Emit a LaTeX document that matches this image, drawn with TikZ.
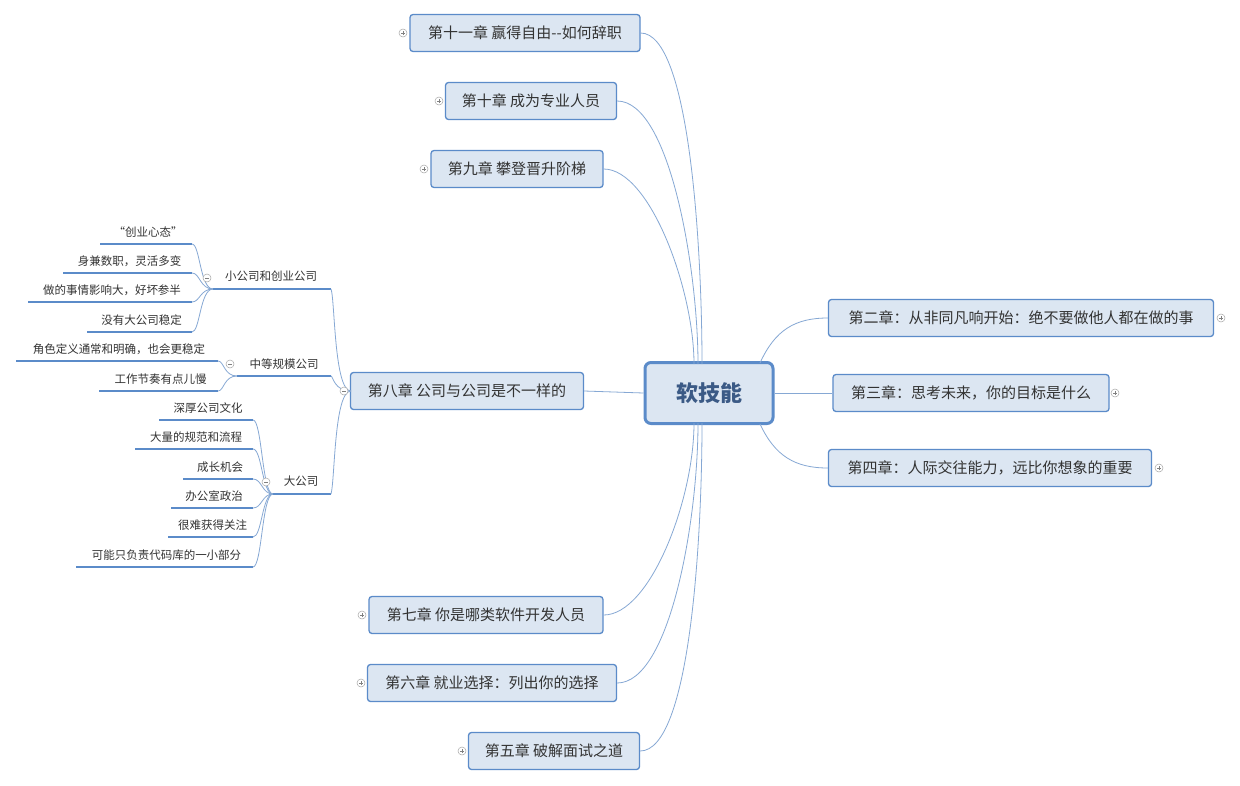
\documentclass[tikz,border=0pt]{standalone}
\usepackage{fontspec}
\setmainfont{Noto Sans CJK SC}
\usetikzlibrary{calc}
\begin{document}
\begin{tikzpicture}[x=1pt,y=-1pt,
  chap/.style={draw=boxb,fill=boxf,line width=1.3pt,rounded corners=3pt,font=\fontsize{15}{17}\selectfont,text=txt,minimum height=37pt,inner xsep=0pt},
  leaf/.style={font=\fontsize{11.5}{13}\selectfont,text=txt,inner sep=0pt},
  conn/.style={draw=lnk,line width=0.8pt},
  ul/.style={draw=ulc,line width=2pt},
  tog/.style={circle,draw=gray!70,fill=white,line width=0.5pt,minimum size=8pt,inner sep=0pt},
]
\definecolor{boxb}{HTML}{5B8BC9}
\definecolor{boxf}{HTML}{DCE6F2}
\definecolor{txt}{HTML}{333333}
\definecolor{lnk}{HTML}{86A8D4}
\definecolor{ulc}{HTML}{5B8BC9}
\definecolor{ctr}{HTML}{3B5A86}
\useasboundingbox (0,0) rectangle (1240,785);
\fill[white] (0,0) rectangle (1240,785);

% centre
\node[draw=boxb,fill=boxf,line width=3pt,rounded corners=6pt,minimum width=128pt,minimum height=61pt,font=\fontsize{22}{24}\bfseries\selectfont,text=ctr] (c) at (709,393) {软技能};
\coordinate (ct1) at (694,364); \coordinate (ct2) at (698,364); \coordinate (ct3) at (702,364);
\coordinate (cb1) at (694,423); \coordinate (cb2) at (698,423); \coordinate (cb3) at (702,423);
\coordinate (cr1) at (760,363); \coordinate (cr3) at (760,424);

% chapters
\node[chap,minimum width=230pt] (ch11) at (525,33) {第十一章 赢得自由-{}-如何辞职};
\node[chap,minimum width=171pt] (ch10) at (531,101) {第十章 成为专业人员};
\node[chap,minimum width=172pt] (ch9) at (517,169) {第九章 攀登晋升阶梯};
\node[chap,minimum width=233pt] (ch8) at (467,391) {第八章 公司与公司是不一样的};
\node[chap,minimum width=234pt] (ch7) at (486,615) {第七章 你是哪类软件开发人员};
\node[chap,minimum width=249pt] (ch6) at (492,683) {第六章 就业选择：列出你的选择};
\node[chap,minimum width=171pt] (ch5) at (554,751) {第五章 破解面试之道};
\node[chap,minimum width=385pt] (ch2) at (1021,318) {第二章：从非同凡响开始：绝不要做他人都在做的事};
\node[chap,minimum width=276pt] (ch3) at (971,393) {第三章：思考未来，你的目标是什么};
\node[chap,minimum width=323pt] (ch4) at (990,468) {第四章：人际交往能力，远比你想象的重要};

% centre connectors
\draw[conn] (ch11.east) .. controls (690,33) and (702,250) .. (ct3);
\draw[conn] (ch10.east) .. controls (670,101) and (698,270) .. (ct2);
\draw[conn] (ch9.east) .. controls (650,169) and (694,290) .. (ct1);
\draw[conn] (ch8.east) -- (c.west);
\draw[conn] (ch7.east) .. controls (650,615) and (694,500) .. (cb1);
\draw[conn] (ch6.east) .. controls (670,683) and (698,520) .. (cb2);
\draw[conn] (ch5.east) .. controls (690,751) and (702,540) .. (cb3);
\draw[conn] (cr1) .. controls (775,330) and (795,318) .. (ch2.west);
\draw[conn] (c.east) -- (ch3.west);
\draw[conn] (cr3) .. controls (775,456) and (795,468) .. (ch4.west);

% subtopics of ch8
\coordinate (s8) at (351,391);
\node[leaf] (s1) at (271,276) {小公司和创业公司};
\coordinate (s1l) at (213,289); \coordinate (s1r) at (331,289);
\node[leaf] (s2) at (284,364) {中等规模公司};
\coordinate (s2l) at (237,376); \coordinate (s2r) at (331,376);
\node[leaf] (s3) at (301,481) {大公司};
\coordinate (s3l) at (273,494); \coordinate (s3r) at (331,494);
\draw[ul] (s1l) -- (s1r); \draw[ul] (s2l) -- (s2r); \draw[ul] (s3l) -- (s3r);
\draw[conn] (s8) .. controls (334,391) and (335,300) .. (s1r);
\draw[conn] (s8) .. controls (334,391) and (333,376) .. (s2r);
\draw[conn] (s8) .. controls (334,391) and (335,480) .. (s3r);

% leaves
\foreach \n/\t/\xl/\y in {a1/“创业心态”/100/244,a2/身兼数职，灵活多变/63/273,a3/做的事情影响大，好坏参半/28/302,a4/没有大公司稳定/87/332}{
  \coordinate (\n l) at (\xl,\y); \coordinate (\n r) at (192,\y);
  \node[leaf] (\n) at ($(\n l)!0.5!(\n r)+(2,-12)$) {\t};
  \draw[ul] (\n l) -- (\n r);
  \draw[conn] (s1l) .. controls (200,289) and (200,\y) .. (\n r);
}
\foreach \n/\t/\xl/\y in {b1/角色定义通常和明确，也会更稳定/16/361,b2/工作节奏有点儿慢/99/391}{
  \coordinate (\n l) at (\xl,\y); \coordinate (\n r) at (218,\y);
  \node[leaf] (\n) at ($(\n l)!0.5!(\n r)+(2,-12)$) {\t};
  \draw[ul] (\n l) -- (\n r);
  \draw[conn] (s2l) .. controls (224,376) and (224,\y) .. (\n r);
}
\foreach \n/\t/\xl/\y in {c1/深厚公司文化/159/420,c2/大量的规范和流程/135/449,c3/成长机会/183/479,c4/办公室政治/171/508,c5/很难获得关注/168/537,c6/可能只负责代码库的一小部分/76/567}{
  \coordinate (\n l) at (\xl,\y); \coordinate (\n r) at (253,\y);
  \node[leaf] (\n) at ($(\n l)!0.5!(\n r)+(2,-12)$) {\t};
  \draw[ul] (\n l) -- (\n r);
  \draw[conn] (s3l) .. controls (262,494) and (262,\y) .. (\n r);
}

% toggles
\foreach \n/\x/\y in {t11/403/33,t10/439/101,t9/424/169,t7/362/615,t6/361/683,t5/462/751,t2/1221/318,t3/1115/393,t4/1159/468}{
  \node[tog] (\n) at (\x,\y) {};
  \draw[gray,line width=0.5pt] ([xshift=-2pt]\n.center) -- ([xshift=2pt]\n.center) ([yshift=-2pt]\n.center) -- ([yshift=2pt]\n.center);
}
\foreach \n/\x/\y in {t8/344/391,ts/207/278,tm/230/364,tb/266/482}{
  \node[tog] (\n) at (\x,\y) {};
  \draw[gray,line width=0.5pt] ([xshift=-2pt]\n.center) -- ([xshift=2pt]\n.center);
}
\end{tikzpicture}
\end{document}
